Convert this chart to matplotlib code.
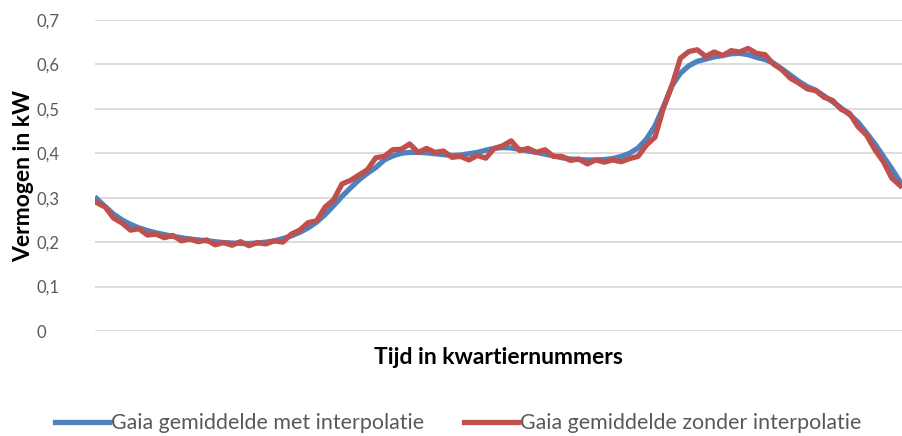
import numpy as np
import matplotlib.pyplot as plt
from matplotlib.ticker import FuncFormatter

plt.rcParams['font.family'] = ['Lato', 'DejaVu Sans']

# --- Data: gemiddeld vermogen per kwartier (kW) ---
kwartier = np.arange(96)

met_interpolatie = [
    0.298, 0.280, 0.263, 0.250, 0.240, 0.232, 0.226, 0.221, 0.217, 0.213,
    0.210, 0.207, 0.205, 0.203, 0.201, 0.199, 0.198, 0.197, 0.197, 0.198,
    0.200, 0.203, 0.208, 0.214, 0.222, 0.232, 0.245, 0.262, 0.282, 0.303,
    0.322, 0.340, 0.355, 0.368, 0.385, 0.394, 0.400, 0.402, 0.402, 0.401,
    0.399, 0.397, 0.395, 0.396, 0.399, 0.402, 0.407, 0.411, 0.413, 0.412,
    0.409, 0.405, 0.402, 0.398, 0.394, 0.390, 0.387, 0.386, 0.385, 0.385,
    0.386, 0.388, 0.393, 0.400, 0.412, 0.432, 0.462, 0.505, 0.552, 0.580,
    0.597, 0.607, 0.612, 0.617, 0.620, 0.624, 0.625, 0.622, 0.616, 0.611,
    0.603, 0.590, 0.576, 0.562, 0.550, 0.542, 0.529, 0.516, 0.502, 0.487,
    0.470, 0.446, 0.421, 0.393, 0.365, 0.335,
]

zonder_interpolatie = [
    0.289, 0.279, 0.254, 0.243, 0.227, 0.230, 0.216, 0.218, 0.210, 0.215,
    0.203, 0.207, 0.201, 0.205, 0.194, 0.199, 0.193, 0.201, 0.192, 0.199,
    0.196, 0.203, 0.200, 0.218, 0.227, 0.244, 0.248, 0.279, 0.295, 0.331,
    0.339, 0.351, 0.363, 0.390, 0.393, 0.408, 0.409, 0.421, 0.402, 0.411,
    0.402, 0.405, 0.391, 0.393, 0.385, 0.395, 0.389, 0.411, 0.417, 0.428,
    0.406, 0.411, 0.402, 0.408, 0.393, 0.393, 0.384, 0.387, 0.376, 0.385,
    0.380, 0.385, 0.381, 0.388, 0.393, 0.419, 0.436, 0.502, 0.552, 0.614,
    0.629, 0.633, 0.618, 0.628, 0.620, 0.631, 0.628, 0.636, 0.625, 0.622,
    0.601, 0.588, 0.569, 0.558, 0.545, 0.541, 0.526, 0.519, 0.499, 0.490,
    0.460, 0.441, 0.408, 0.381, 0.344, 0.327,
]

y_ticks = [0, 0.1, 0.2, 0.3, 0.4, 0.5, 0.6, 0.7]

fig = plt.figure(figsize=(9.02, 4.36), dpi=100)
ax = fig.add_axes([95 / 902, 105 / 436, 807 / 902, 311 / 436])

ax.plot(kwartier, met_interpolatie, color='#4f81bd', lw=3.8,
        solid_joinstyle='round', label='Gaia gemiddelde met interpolatie')
ax.plot(kwartier, zonder_interpolatie, color='#c0504d', lw=3.8,
        solid_joinstyle='round', label='Gaia gemiddelde zonder interpolatie')

ax.set_xlim(-0.2, 95.2)
ax.set_ylim(0, 0.7)
ax.set_yticks(y_ticks)
ax.yaxis.set_major_formatter(FuncFormatter(lambda v, p: f'{v:.1f}'.replace('.', ',') if v else '0'))
ax.set_xticks([])
ax.grid(axis='y', color='#d9d9d9', lw=1.3)
ax.set_axisbelow(True)
for s in ax.spines.values():
    s.set_visible(False)
ax.tick_params(axis='y', length=0, pad=42, labelsize=12, labelcolor='#595959')
for lab in ax.get_yticklabels():
    lab.set_horizontalalignment('left')

ax.set_ylabel('Vermogen in kW', fontsize=16.5, fontweight='bold', color='black', va='center')
ax.yaxis.set_label_coords(-71 / 807, 0.5)
ax.set_xlabel('Tijd in kwartiernummers', fontsize=16.5, fontweight='bold', color='black', va='center')
ax.xaxis.set_label_coords(0.5, -26 / 311)

fig.legend(loc='center', bbox_to_anchor=(0.508, 13 / 436), ncol=2, frameon=False,
           fontsize=15.4, labelcolor='#595959', handlelength=2.5, handletextpad=0.1,
           columnspacing=1.9)

fig.savefig('out.png', dpi=100)
